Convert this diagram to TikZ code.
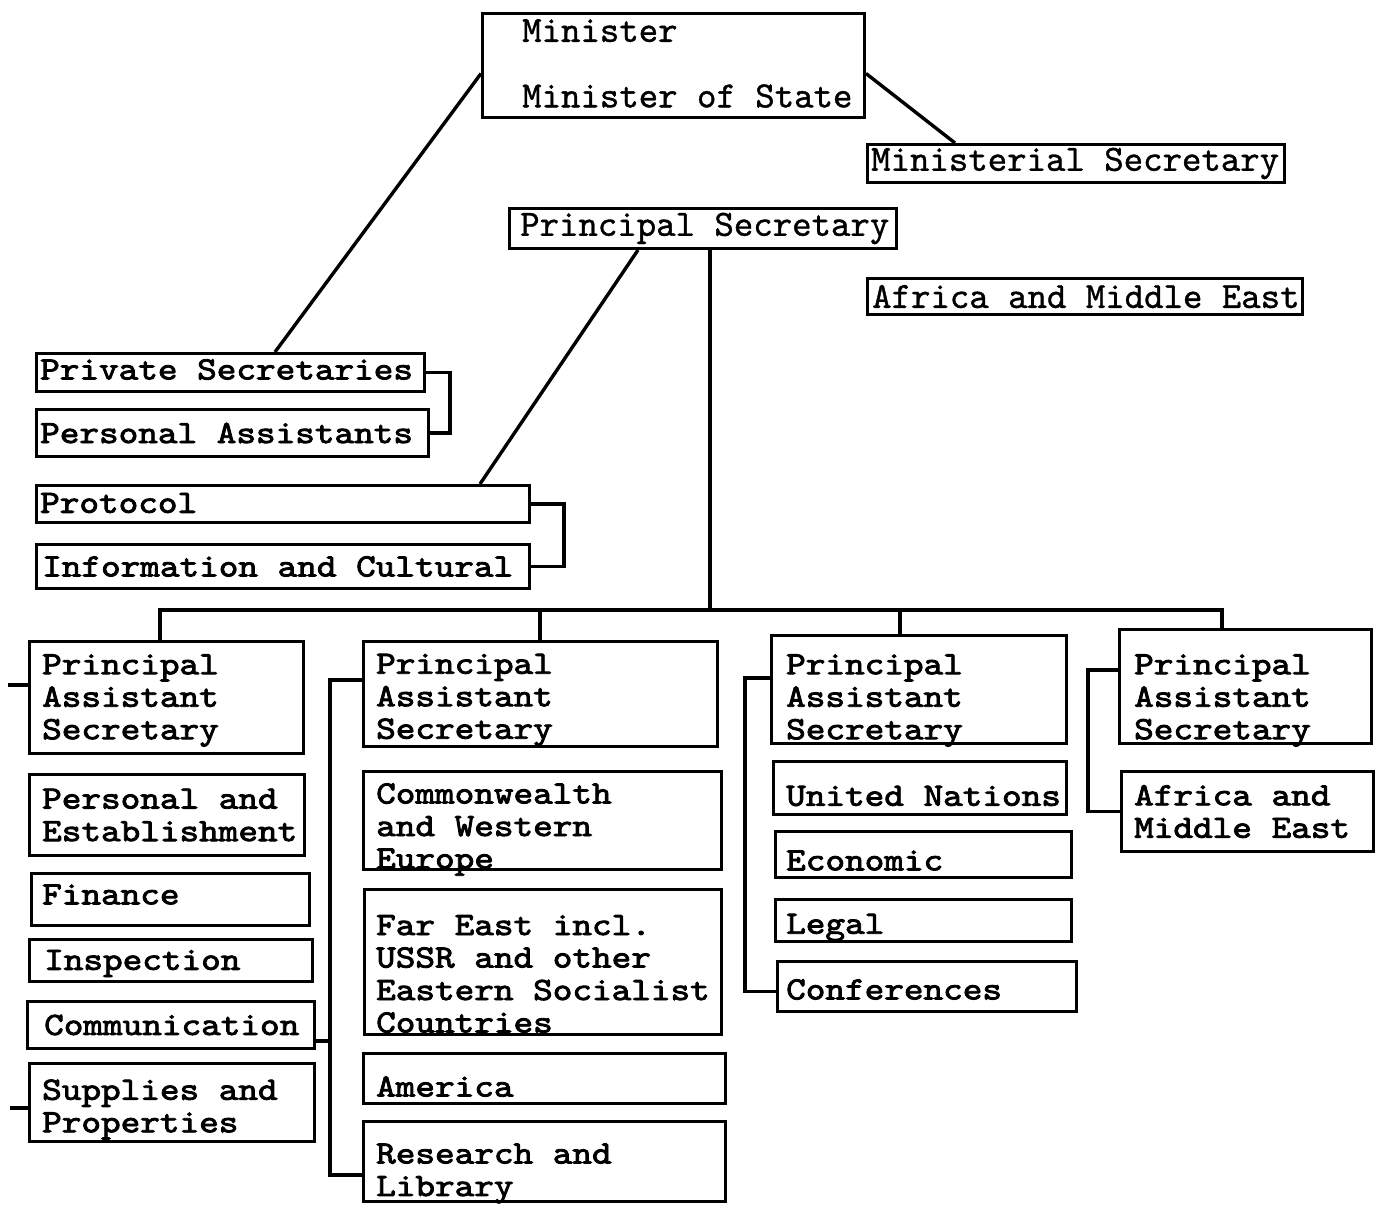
\documentclass[tikz,border=0pt]{standalone}
\usepackage{fontspec}
\newfontfamily\lowfam{lmmono10-regular.otf}[FakeStretch=1.15,FakeBold=2.6]
\newfontfamily\topfam{lmmono10-regular.otf}[FakeBold=1]
\newcommand\lowfont{\lowfam\fontsize{32.5pt}{32.5pt}\selectfont}
\newcommand\topfont{\topfam\fontsize{37pt}{32.5pt}\selectfont}
\tikzset{
  box/.style={draw, line width=3pt, inner sep=0pt, anchor=north west},
  lnk/.style={line width=3.4pt},
  txt/.style={font=\lowfont, align=left, inner sep=0pt, anchor=west},
  toptxt/.style={font=\topfont, align=left, inner sep=0pt, anchor=west},
}
\newcommand\ob[5]{\node[box, minimum width={#4-#2}, minimum height={#5-#3}] (#1) at (#2,-#3) {};}
\begin{document}
\begin{tikzpicture}[x=1pt,y=1pt]
\useasboundingbox (0,0) rectangle (1375,-1229);
% top boxes
\ob{minister}{481}{12}{863}{116}
\ob{minsec}{866}{143}{1283}{181}
\ob{psec}{508}{207}{895}{247}
\ob{africaT}{866}{277}{1301}{313}
\node[toptxt] (ministert) at ([xshift=41pt,yshift=2pt]minister.west) {Minister\\[33pt]Minister of State};
\node[toptxt] (minsect) at ([xshift=5pt]minsec.west) {Ministerial Secretary};
\node[toptxt] (psect) at ([xshift=12pt]psec.west) {Principal Secretary};
\node[toptxt] (africaTt) at ([xshift=6pt]africaT.west) {Africa and Middle East};
% left upper boxes
\ob{privsec}{35}{352}{423}{390}
\ob{persass}{35}{408}{427}{455}
\ob{protocol}{35}{484}{528}{521}
\ob{info}{35}{543}{528}{587}
\node[txt] (privsect) at ([xshift=5pt,yshift=3pt]privsec.west) {Private Secretaries};
\node[txt] (persasst) at ([xshift=5pt]persass.west) {Personal Assistants};
\node[txt] (protocolt) at ([xshift=5pt,yshift=1pt]protocol.west) {Protocol};
\node[txt] (infot) at ([xshift=7pt]info.west) {Information and Cultural};
% column 1
\ob{pas1}{28}{640}{302}{752}
\ob{pers}{28}{773}{303}{854}
\ob{fin}{30}{872}{308}{924}
\ob{insp}{28}{938}{311}{980}
\ob{comm}{26}{1000}{313}{1047}
\ob{supp}{28}{1062}{313}{1140}
\node[txt] (pas1t) at ([xshift=14pt,yshift=-3pt]pas1.west) {Principal\\Assistant\\Secretary};
\node[txt] (perst) at ([xshift=14pt]pers.west) {Personal and\\Establishment};
\node[txt] (fint) at ([xshift=12pt,yshift=5pt]fin.west) {Finance};
\node[txt] (inspt) at ([xshift=16pt,yshift=-3pt]insp.west) {Inspection};
\node[txt] (commt) at ([xshift=18pt]comm.west) {Communication};
\node[txt] (suppt) at ([xshift=14pt,yshift=-7pt]supp.west) {Supplies and\\Properties};
% column 2
\ob{pas2}{362}{640}{716}{745}
\ob{cw}{362}{770}{720}{868}
\ob{fe}{363}{888}{720}{1033}
\ob{amer}{362}{1052}{724}{1102}
\ob{resl}{362}{1120}{724}{1200}
\node[txt] (pas2t) at ([xshift=14pt,yshift=-6pt]pas2.west) {Principal\\Assistant\\Secretary};
\node[txt] (cwt) at ([xshift=14pt,yshift=-9pt]cw.west) {Commonwealth\\and Western\\Europe};
\node[txt] (fet) at ([xshift=13pt,yshift=-12pt]fe.west) {Far East incl.\\USSR and other\\Eastern Socialist\\Countries};
\node[txt] (amert) at ([xshift=14pt,yshift=-8pt]amer.west) {America};
\node[txt] (reslt) at ([xshift=14pt,yshift=-12pt]resl.west) {Research and\\Library};
% column 3
\ob{pas3}{770}{634}{1065}{742}
\ob{un}{772}{760}{1065}{813}
\ob{econ}{774}{830}{1070}{876}
\ob{legal}{774}{898}{1070}{940}
\ob{conf}{776}{960}{1075}{1010}
\node[txt] (pas3t) at ([xshift=16pt,yshift=-11pt]pas3.west) {Principal\\Assistant\\Secretary};
\node[txt] (unt) at ([xshift=14pt,yshift=-8pt]un.west) {United Nations};
\node[txt] (econt) at ([xshift=12pt,yshift=-6pt]econ.west) {Economic};
\node[txt] (legalt) at ([xshift=12pt,yshift=-7pt]legal.west) {Legal};
\node[txt] (conft) at ([xshift=10pt,yshift=-3pt]conf.west) {Conferences};
% column 4
\ob{pas4}{1118}{628}{1370}{742}
\ob{afr}{1120}{770}{1372}{850}
\node[txt] (pas4t) at ([xshift=16pt,yshift=-14pt]pas4.west) {Principal\\Assistant\\Secretary};
\node[txt] (afrt) at ([xshift=14pt]afr.west) {Africa and\\Middle East};
% connectors from the top
\draw[lnk] ([yshift=-8pt]minister.west) -- ([xshift=240pt]privsec.north west);
\draw[lnk] ([yshift=-8pt]minister.east) -- ([xshift=89pt]minsec.north west);
\draw[lnk] ([xshift=130pt]psec.south west) -- ([xshift=445pt]protocol.north west);
\draw[lnk] (privsec.east) -- ++(24pt,0) |- (persass.east);
\draw[lnk] (protocol.east) -- ++(33pt,0) |- (info.east);
% main bus
\coordinate (trunk) at (710,-610);
\coordinate (busL) at (160,-610);
\coordinate (bus2) at (540,-610);
\coordinate (bus3) at (900,-610);
\coordinate (busR) at (1222,-610);
\draw[lnk] (psec.south -| trunk) -- (trunk);
\draw[lnk] (busL |- pas1.north) -- (busL) -- (busR) -- (busR |- pas4.north);
\draw[lnk] (bus2) -- (bus2 |- pas2.north);
\draw[lnk] (bus3) -- (bus3 |- pas3.north);
% side brackets
\coordinate (b2) at (330,-680);
\coordinate (b2end) at (330,-1175);
\draw[lnk] (pas2.west |- b2) -- (b2) -- (b2end) -- (resl.west |- b2end);
\draw[lnk] ([yshift=-16pt]comm.east) -- ([yshift=-16pt]comm.east -| b2);
\coordinate (b3) at (745,-678);
\draw[lnk] (pas3.west |- b3) -- (b3) |- ([yshift=-5pt]conf.west);
\coordinate (b4) at (1088,-670);
\draw[lnk] (pas4.west |- b4) -- (b4) |- (afr.west);
% free ticks on the left
\coordinate (tick1) at (8,-685);
\coordinate (tick2) at (10,-1108);
\draw[lnk] (tick1) -- (tick1 -| pas1.west);
\draw[lnk] (tick2) -- (tick2 -| supp.west);
\end{tikzpicture}
\end{document}
